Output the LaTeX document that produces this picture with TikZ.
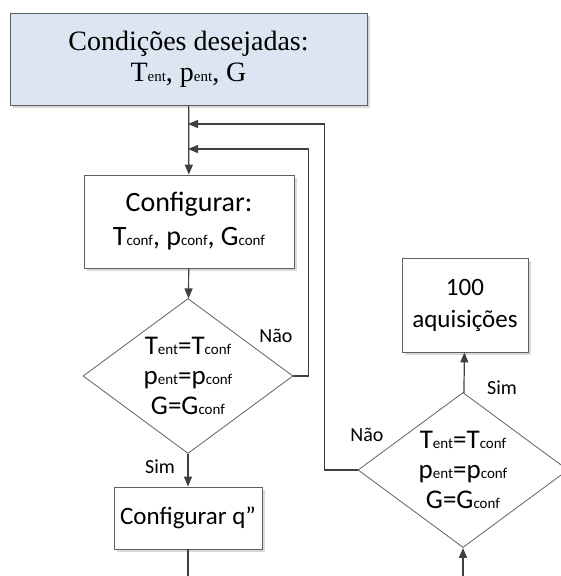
\documentclass[tikz,border=0pt]{standalone}
\usepackage{fontspec}
\setmainfont{Liberation Serif}
\setsansfont{Carlito}
\usetikzlibrary{arrows.meta,shapes.geometric,shadows}
\definecolor{boxblue}{RGB}{220,230,242}
\definecolor{linegray}{RGB}{64,64,64}
\definecolor{edgegray}{RGB}{96,96,96}
\newcommand{\lo}[1]{{\fontsize{15}{15}\selectfont #1}}

\begin{document}
\begin{tikzpicture}[x=1pt,y=-1pt,>={Triangle[length=10pt,width=8pt]}]
        \tikzstyle{block}=[draw=edgegray,line width=0.8pt,rectangle,fill=white,inner sep=0pt,align=center,
          drop shadow={shadow xshift=3pt,shadow yshift=-3pt,fill=black!15,draw=none,opacity=1},
          font=\sffamily\fontsize{28}{34}\selectfont]
        \tikzstyle{start}=[block,fill=boxblue,font=\fontsize{28}{31}\selectfont]
        \tikzstyle{test}=[draw=edgegray,line width=0.8pt,diamond,inner sep=0pt,shape aspect=1.35,align=center,
          minimum width=210pt,minimum height=155pt,font=\sffamily\fontsize{27}{30}\selectfont]
        \tikzstyle{answer}=[font=\sffamily\fontsize{20}{20}\selectfont,inner sep=0pt]
        \tikzstyle{flow}=[draw=linegray,line width=1.2pt]

        \useasboundingbox (0,0) rectangle (560,576);

        \draw node at (188.5, 59) [start,minimum width=357pt,minimum height=92pt] (cond) {Condições desejadas:\\T\lo{ent}, p\lo{ent}, G};
        \draw node at (189, 221.5) [block,minimum width=210pt,minimum height=93pt] (conf) {Configurar:\\T\lo{conf}, p\lo{conf}, G\lo{conf}};
        \draw node at (188, 376) [test] (d1) {T\lo{ent}=T\lo{conf}\\p\lo{ent}=p\lo{conf}\\G=G\lo{conf}};
        \draw node at (188, 518) [block,minimum width=148pt,minimum height=62pt,font=\sffamily\fontsize{25}{30}\selectfont] (q) {Configurar q”};
        \draw node at (465, 305) [block,minimum width=126pt,minimum height=94pt,font=\sffamily\fontsize{25}{32}\selectfont] (acq) {100\\aquisições};
        \draw node at (463, 470) [test] (d2) {T\lo{ent}=T\lo{conf}\\p\lo{ent}=p\lo{conf}\\G=G\lo{conf}};

        \coordinate (in1) at (188, 124);
        \coordinate (in2) at (188, 149);
        \coordinate (qend) at (188, 590);
        \coordinate (d2in) at (463, 590);

        \node at (276, 336) [answer] (nao1) {Não};
        \node at (160, 467) [answer] (sim1) {Sim};
        \node at (367, 435) [answer] (nao2) {Não};
        \node at (502, 388) [answer] (sim2) {Sim};

        \draw [flow,->]  (cond) to (conf);
        \draw [flow,->]  (conf) to (d1);
        \draw [flow,->]  (d1) to (q);
        \draw [flow]     (q) to (qend);
        \draw [flow,->]  (d2in) to (d2);
        \draw [flow,->]  (d2) to (acq);
        \draw [flow,->]  (d1.east) -- ++(15, 0) |- (in2);
        \draw [flow,->]  (d2.west) -- ++(-33, 0) |- (in1);
    \end{tikzpicture}
\end{document}
